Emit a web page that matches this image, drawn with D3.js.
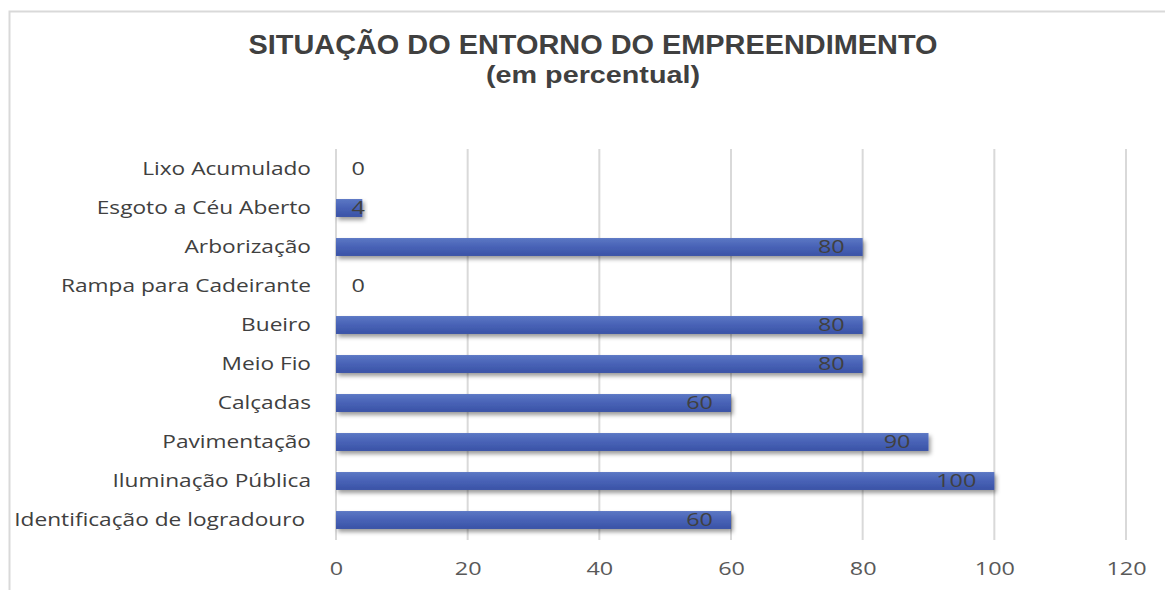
<!DOCTYPE html>
<meta charset="utf-8">
<style>
body { margin: 0; background: #fff; }
.title { font-family: "Liberation Sans", Arial, sans-serif; font-weight: bold; fill: #404040; }
.cat text, .val { font-family: "Open Sans", sans-serif; fill: #404040; }
.cat text { white-space: pre; }
.xaxis text { font-family: "Open Sans", sans-serif; fill: #595959; }
.grid line { stroke: #d9d9d9; stroke-width: 2; }
</style>
<div id="chart"></div>
<script src="https://d3js.org/d3.v7.min.js"></script>
<script>

var categories = ["Lixo Acumulado", "Esgoto a Céu Aberto", "Arborização", "Rampa para Cadeirante",
  "Bueiro", "Meio Fio", "Calçadas", "Pavimentação", "Iluminação Pública", "Identificação de logradouro "];
var values = [0, 4, 80, 0, 80, 80, 60, 90, 100, 60];
var xTicks = [0, 20, 40, 60, 80, 100, 120];

var W = 1165, H = 590;
var svg = d3.select("#chart").append("svg").attr("width", W).attr("height", H);

// the picture's text is a bit wider than Open Sans, so stretch it
function widen(sel, k) {
  sel.each(function() {
    var len = this.getComputedTextLength();
    d3.select(this).attr("textLength", len * k).attr("lengthAdjust", "spacingAndGlyphs");
  });
}

// frame (only top and left edge visible in the crop)
svg.append("path")
   .attr("d", "M9.5,590 V11.5 H1165")
   .attr("fill", "none").attr("stroke", "#d9d9d9").attr("stroke-width", 2);

var defs = svg.append("defs");
var grad = defs.append("linearGradient").attr("id", "barGrad")
   .attr("x1", 0).attr("y1", 0).attr("x2", 0).attr("y2", 1);
grad.append("stop").attr("offset", "0%").attr("stop-color", "#5b77c4");
grad.append("stop").attr("offset", "50%").attr("stop-color", "#4862b6");
grad.append("stop").attr("offset", "100%").attr("stop-color", "#3a53a6");
var shadow = defs.append("filter").attr("id", "shadow")
   .attr("x", "-10%").attr("y", "-50%").attr("width", "130%").attr("height", "250%");
shadow.append("feDropShadow").attr("dx", 2).attr("dy", 3).attr("stdDeviation", 2)
   .attr("flood-color", "#000").attr("flood-opacity", 0.4);

svg.append("text").attr("class", "title")
   .attr("x", 593).attr("y", 54).attr("text-anchor", "middle")
   .attr("textLength", 689).attr("lengthAdjust", "spacingAndGlyphs")
   .style("font-size", "27px")
   .text("SITUAÇÃO DO ENTORNO DO EMPREENDIMENTO");
svg.append("text").attr("class", "title")
   .attr("x", 593).attr("y", 83).attr("text-anchor", "middle")
   .attr("textLength", 214).attr("lengthAdjust", "spacingAndGlyphs")
   .style("font-size", "24px")
   .text("(em percentual)");

var x = d3.scaleLinear().domain([0, 120]).range([336, 1126]);
var y = d3.scaleBand().domain(categories).range([149.5, 539.5]).paddingInner(0.54).paddingOuter(0.27);

// gridlines
svg.append("g").attr("class", "grid")
   .selectAll("line").data(xTicks).enter().append("line")
   .attr("x1", function(d){ return x(d); }).attr("x2", function(d){ return x(d); })
   .attr("y1", 149).attr("y2", 540);

// x axis labels
var xa = svg.append("g").attr("class", "xaxis")
   .attr("transform", "translate(0,561)")
   .call(d3.axisBottom(x).tickValues(xTicks).tickSize(0).tickPadding(0));
xa.select(".domain").remove();
xa.selectAll("text").style("font-size", "18px").attr("dy", "0.75em");
widen(xa.selectAll("text"), 1.3);

// category labels
var ca = svg.append("g").attr("class", "cat")
   .attr("transform", "translate(311,0)")
   .call(d3.axisLeft(y).tickSize(0).tickPadding(0));
ca.select(".domain").remove();
ca.selectAll("text").style("font-size", "18px");
widen(ca.selectAll("text"), 1.26);

// bars
svg.selectAll(".bar").data(values).enter().append("rect")
   .attr("class", "bar")
   .attr("x", x(0))
   .attr("y", function(d, i){ return y(categories[i]); })
   .attr("width", function(d){ return x(d) - x(0); })
   .attr("height", y.bandwidth())
   .attr("fill", "url(#barGrad)")
   .attr("filter", "url(#shadow)");

// value labels (inside end, pushed out when the bar is too short)
var vals = svg.selectAll(".val").data(values).enter().append("text")
   .attr("class", "val")
   .attr("x", function(d){ return Math.max(x(d) - 18, 365); })
   .attr("y", function(d, i){ return y(categories[i]) + y.bandwidth() / 2; })
   .attr("dy", "0.36em")
   .attr("text-anchor", "end")
   .style("font-size", "18px")
   .text(function(d){ return d; });
widen(vals, 1.3);
</script>
